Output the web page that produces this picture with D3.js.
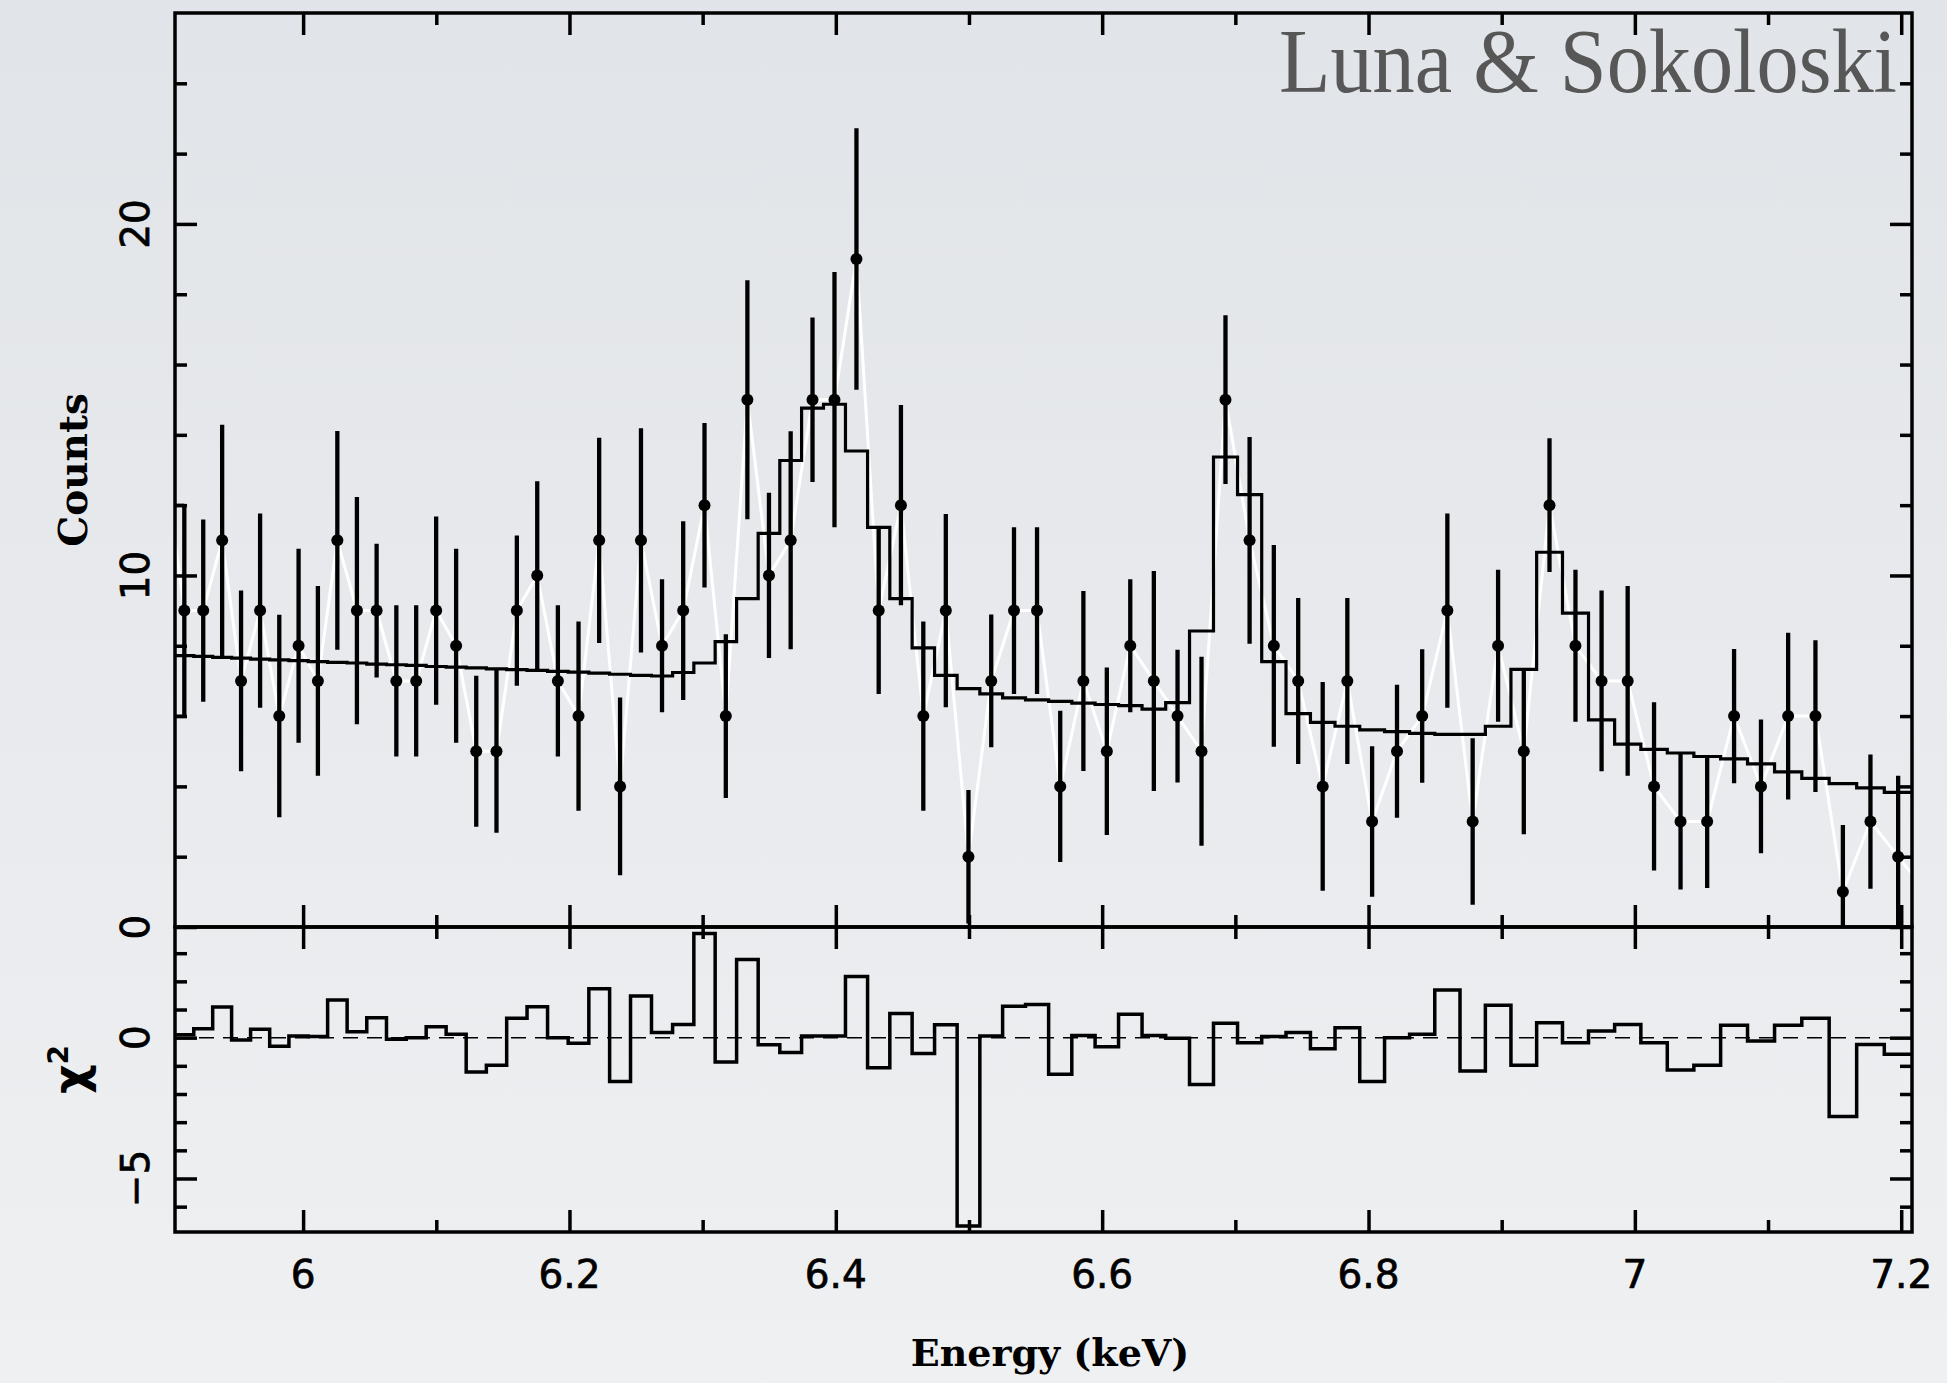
<!DOCTYPE html>
<html>
<head>
<meta charset="utf-8">
<script src="https://cdn.jsdelivr.net/npm/d3@7"></script>
<style>
  body { margin: 0; padding: 0; background: #e8eaed; }
  svg { display: block; }
</style>
</head>
<body>
<div id="viz"></div>
<script>
// Spectrum data, one entry per bin (bin centres in keV)
var energies = [
  5.9108, 5.9250, 5.9392, 5.9534, 5.9677, 5.9821, 5.9966, 6.0111, 6.0257, 6.0404,
  6.0552, 6.0700, 6.0849, 6.0999, 6.1149, 6.1300, 6.1452, 6.1605, 6.1758, 6.1913,
  6.2068, 6.2223, 6.2380, 6.2537, 6.2695, 6.2854, 6.3014, 6.3174, 6.3336, 6.3498,
  6.3661, 6.3825, 6.3990, 6.4155, 6.4322, 6.4489, 6.4657, 6.4826, 6.4996, 6.5167,
  6.5338, 6.5511, 6.5685, 6.5859, 6.6035, 6.6211, 6.6388, 6.6566, 6.6746, 6.6926,
  6.7107, 6.7289, 6.7472, 6.7656, 6.7841, 6.8027, 6.8214, 6.8403, 6.8592, 6.8782,
  6.8973, 6.9166, 6.9359, 6.9554, 6.9750, 6.9946, 7.0144, 7.0343, 7.0543, 7.0745,
  7.0947, 7.1151, 7.1356, 7.1562, 7.1769, 7.1977
];
var counts = [
  9, 9, 11, 7, 9, 6, 8, 7, 11, 9,
  9, 7, 7, 9, 8, 5, 5, 9, 10, 7,
  6, 11, 4, 11, 8, 9, 12, 6, 15, 10,
  11, 15, 15, 19, 9, 12, 6, 9, 2, 7,
  9, 9, 4, 7, 5, 8, 7, 6, 5, 15,
  11, 8, 7, 4, 7, 3, 5, 6, 9, 3,
  8, 5, 12, 8, 7, 7, 4, 3, 3, 6,
  4, 6, 6, 1, 3, 2
];
var countErrors = [
  3.00, 2.59, 3.29, 2.57, 2.76, 2.88, 2.76, 2.70, 3.11, 3.23,
  1.90, 2.15, 2.15, 2.68, 2.76, 2.15, 2.32, 2.14, 2.68, 2.15,
  2.69, 2.92, 2.53, 3.19, 1.89, 2.54, 2.34, 2.33, 3.40, 2.35,
  3.10, 2.34, 3.63, 3.72, 2.37, 2.85, 2.69, 2.75, 1.90, 1.89,
  2.37, 2.37, 2.15, 2.56, 2.38, 1.89, 3.13, 1.89, 2.69, 2.40,
  2.94, 2.87, 2.36, 2.97, 2.36, 2.14, 1.89, 1.90, 2.76, 2.37,
  2.16, 2.36, 1.90, 2.16, 2.57, 2.70, 2.39, 1.93, 1.89, 1.91,
  1.90, 2.37, 2.16, 1.90, 1.91, 2.30
];
var modelCounts = [
  7.72, 7.70, 7.67, 7.65, 7.62, 7.60, 7.58, 7.55, 7.53, 7.51,
  7.48, 7.46, 7.44, 7.41, 7.39, 7.37, 7.34, 7.32, 7.30, 7.27,
  7.25, 7.22, 7.19, 7.16, 7.14, 7.24, 7.51, 8.12, 9.34, 11.20,
  13.27, 14.76, 14.87, 13.54, 11.37, 9.34, 7.94, 7.16, 6.78, 6.63,
  6.52, 6.46, 6.42, 6.37, 6.33, 6.30, 6.20, 6.38, 8.42, 13.37,
  12.30, 7.55, 6.07, 5.82, 5.71, 5.61, 5.56, 5.51, 5.48, 5.48,
  5.71, 7.33, 10.66, 8.93, 5.89, 5.20, 5.05, 4.95, 4.85, 4.78,
  4.64, 4.41, 4.23, 4.08, 3.96, 3.83
];
var residuals = [
  0.10, 0.32, 1.09, -0.08, 0.30, -0.30, 0.06, 0.04, 1.34, 0.21,
  0.71, -0.06, 0.00, 0.39, 0.12, -1.22, -0.98, 0.69, 1.10, 0.00,
  -0.20, 1.74, -1.56, 1.48, 0.18, 0.47, 3.70, -0.86, 2.78, -0.25,
  -0.53, 0.06, 0.06, 2.17, -1.07, 0.86, -0.56, 0.46, -6.69, 0.06,
  1.12, 1.18, -1.30, 0.08, -0.32, 0.83, 0.08, -0.02, -1.66, 0.51,
  -0.18, 0.04, 0.18, -0.39, 0.35, -1.56, 0.00, 0.12, 1.69, -1.18,
  1.15, -0.98, 0.53, -0.18, 0.24, 0.47, -0.18, -1.15, -0.98, 0.44,
  -0.12, 0.44, 0.69, -2.80, -0.24, -0.59
];
// neighbouring bins just outside the plotted range (only the white line reaches them)
var outsideEnergies = [5.8968, 7.2186];
var outsideCounts = [13, 1];

// Ticks and labels
var xMajorTicks = [6, 6.2, 6.4, 6.6, 6.8, 7, 7.2];
var xTickLabels = ['6', '6.2', '6.4', '6.6', '6.8', '7', '7.2'];
var xMinorTicks = [6.1, 6.3, 6.5, 6.7, 6.9, 7.1];
var countMajorTicks = [0, 10, 20];
var countTickLabels = ['0', '10', '20'];
var countMinorTicks = [2, 4, 6, 8, 12, 14, 16, 18, 22, 24];
var residMajorTicks = [0, -5];
var residTickLabels = ['0', '\u22125'];
var residMinorTicks = [3, 2, 1, -1, -2, -3, -4, -6];

/*
 * Layout
 */
var width = 1947, height = 1383;
var left = 175, right = 1912;
var topY = 13, midY = 927, bottomY = 1232;
var majorLen = 22, minorLen = 12;
var axisWidth = 3.5;

var x = d3.scaleLinear().domain([5.9038, 7.2081]).range([left, right]);
var yCounts = d3.scaleLinear().domain([0, 26]).range([midY, topY]);
var yResid = d3.scaleLinear().domain([-6.9, 3.93]).range([bottomY, midY]);

var svg = d3.select('#viz').append('svg')
  .attr('width', width)
  .attr('height', height);

var defs = svg.append('defs');

// soft grey background
var grad = defs.append('linearGradient')
  .attr('id', 'bg')
  .attr('x1', 0).attr('y1', 0).attr('x2', 0).attr('y2', 1);
grad.append('stop').attr('offset', '0%').attr('stop-color', '#e1e4e8');
grad.append('stop').attr('offset', '100%').attr('stop-color', '#eff0f2');
svg.append('rect')
  .attr('width', width).attr('height', height)
  .attr('fill', 'url(#bg)');

defs.append('clipPath').attr('id', 'clipTop')
  .append('rect')
  .attr('x', left).attr('y', topY)
  .attr('width', right - left).attr('height', midY - topY);
defs.append('clipPath').attr('id', 'clipBottom')
  .append('rect')
  .attr('x', left).attr('y', midY)
  .attr('width', right - left).attr('height', bottomY - midY);

// bin edges: half way between neighbouring centres
var edges = [energies[0] - (energies[1] - energies[0]) / 2];
for (var i = 1; i < energies.length; i++) {
  edges.push((energies[i - 1] + energies[i]) / 2);
}
var n = energies.length;
edges.push(energies[n - 1] + (energies[n - 1] - energies[n - 2]) / 2);

// step path through the bins
function stepPath(values, yScale) {
  var p = d3.path();
  for (var k = 0; k < values.length; k++) {
    if (k === 0) p.moveTo(x(edges[0]), yScale(values[0]));
    else p.lineTo(x(edges[k]), yScale(values[k]));
    p.lineTo(x(edges[k + 1]), yScale(values[k]));
  }
  return p.toString();
}

/*
 * Upper panel: counts
 */
var gTop = svg.append('g').attr('clip-path', 'url(#clipTop)');

// white line joining the data points
var linePts = [[outsideEnergies[0], outsideCounts[0]]];
energies.forEach(function (e, k) { linePts.push([e, counts[k]]); });
linePts.push([outsideEnergies[1], outsideCounts[1]]);
gTop.append('path')
  .attr('d', d3.line().x(function (d) { return x(d[0]); }).y(function (d) { return yCounts(d[1]); })(linePts))
  .attr('fill', 'none')
  .attr('stroke', '#ffffff')
  .attr('stroke-width', 3);

// model histogram
gTop.append('path')
  .attr('d', stepPath(modelCounts, yCounts))
  .attr('fill', 'none')
  .attr('stroke', '#000')
  .attr('stroke-width', 3.2)
  .attr('stroke-linejoin', 'miter');

// error bars
gTop.selectAll('line.err')
  .data(energies)
  .enter().append('line')
  .attr('class', 'err')
  .attr('x1', function (d) { return x(d); })
  .attr('x2', function (d) { return x(d); })
  .attr('y1', function (d, k) { return yCounts(counts[k] + countErrors[k]); })
  .attr('y2', function (d, k) { return yCounts(counts[k] - countErrors[k]); })
  .attr('stroke', '#000')
  .attr('stroke-width', 4.3);

// the first bar has its ends carried to the frame
[1, -1].forEach(function (s) {
  gTop.append('line')
    .attr('x1', x.range()[0]).attr('x2', x(energies[0]))
    .attr('y1', yCounts(counts[0] + s * countErrors[0]))
    .attr('y2', yCounts(counts[0] + s * countErrors[0]))
    .attr('stroke', '#000').attr('stroke-width', 3);
});

// data points
gTop.selectAll('circle.pt')
  .data(energies)
  .enter().append('circle')
  .attr('class', 'pt')
  .attr('cx', function (d) { return x(d); })
  .attr('cy', function (d, k) { return yCounts(counts[k]); })
  .attr('r', 6)
  .attr('fill', '#000');

/*
 * Lower panel: residuals
 */
var gBot = svg.append('g').attr('clip-path', 'url(#clipBottom)');

gBot.append('line')
  .attr('x1', left).attr('x2', right)
  .attr('y1', yResid(0)).attr('y2', yResid(0))
  .attr('stroke', '#000')
  .attr('stroke-width', 1.5)
  .attr('stroke-dasharray', '15,9');

gBot.append('path')
  .attr('d', stepPath(residuals, yResid))
  .attr('fill', 'none')
  .attr('stroke', '#000')
  .attr('stroke-width', 3.5);

/*
 * Frames and ticks (all pointing inwards)
 */
function drawTicks(axisFn, scale, values, size, tx, ty) {
  var g = svg.append('g')
    .attr('transform', 'translate(' + tx + ',' + ty + ')')
    .call(axisFn(scale).tickValues(values).tickSize(-size).tickFormat(''));
  g.select('.domain').remove();
  g.selectAll('line').attr('stroke', '#000').attr('stroke-width', axisWidth);
}

// x ticks on both panels, top and bottom
[topY, midY].forEach(function (yy) {
  drawTicks(d3.axisTop, x, xMajorTicks, majorLen, 0, yy);
  drawTicks(d3.axisTop, x, xMinorTicks, minorLen, 0, yy);
});
[midY, bottomY].forEach(function (yy) {
  drawTicks(d3.axisBottom, x, xMajorTicks, majorLen, 0, yy);
  drawTicks(d3.axisBottom, x, xMinorTicks, minorLen, 0, yy);
});

// y ticks
drawTicks(d3.axisLeft, yCounts, countMajorTicks, majorLen, left, 0);
drawTicks(d3.axisLeft, yCounts, countMinorTicks, minorLen, left, 0);
drawTicks(d3.axisRight, yCounts, countMajorTicks, majorLen, right, 0);
drawTicks(d3.axisRight, yCounts, countMinorTicks, minorLen, right, 0);
drawTicks(d3.axisLeft, yResid, residMajorTicks, majorLen, left, 0);
drawTicks(d3.axisLeft, yResid, residMinorTicks, minorLen, left, 0);
drawTicks(d3.axisRight, yResid, residMajorTicks, majorLen, right, 0);
drawTicks(d3.axisRight, yResid, residMinorTicks, minorLen, right, 0);

svg.append('rect')
  .attr('x', left).attr('y', topY)
  .attr('width', right - left).attr('height', midY - topY)
  .attr('fill', 'none').attr('stroke', '#000').attr('stroke-width', axisWidth);
svg.append('rect')
  .attr('x', left).attr('y', midY)
  .attr('width', right - left).attr('height', bottomY - midY)
  .attr('fill', 'none').attr('stroke', '#000').attr('stroke-width', axisWidth);

/*
 * Labels
 */
var tickFont = "'DejaVu Sans', sans-serif";
var titleFont = "'DejaVu Serif', serif";

svg.selectAll('text.xlab')
  .data(xMajorTicks)
  .enter().append('text')
  .attr('class', 'xlab')
  .attr('x', function (d) { return x(d); })
  .attr('y', 1288)
  .attr('text-anchor', 'middle')
  .style('font-family', tickFont)
  .style('font-size', '39px')
  .attr('fill', '#000')
  .attr('stroke', '#000')
  .attr('stroke-width', 0.7)
  .text(function (d, k) { return xTickLabels[k]; });

function rotatedLabels(values, labels, scale) {
  values.forEach(function (v, k) {
    svg.append('text')
      .attr('transform', 'translate(149,' + scale(v) + ') rotate(-90)')
      .attr('text-anchor', 'middle')
      .style('font-family', tickFont)
      .style('font-size', '39px')
      .attr('fill', '#000')
      .attr('stroke', '#000')
      .attr('stroke-width', 0.7)
      .text(labels[k]);
  });
}
rotatedLabels(countMajorTicks, countTickLabels, yCounts);
rotatedLabels(residMajorTicks, residTickLabels, yResid);

svg.append('text')
  .attr('transform', 'translate(87,' + (topY + midY) / 2 + ') rotate(-90)')
  .attr('text-anchor', 'middle')
  .style('font-family', titleFont)
  .style('font-weight', 'bold')
  .style('font-size', '39px')
  .attr('fill', '#000')
  .text('Counts');

var chi = svg.append('text')
  .attr('transform', 'translate(86,' + ((midY + bottomY) / 2 - 10) + ') rotate(-90)')
  .attr('text-anchor', 'middle')
  .style('font-family', tickFont)
  .style('font-weight', 'bold')
  .style('font-size', '46px')
  .attr('fill', '#000');
chi.append('tspan').text('\u03c7');
chi.append('tspan').attr('dy', -18).style('font-size', '28px').text('2');

svg.append('text')
  .attr('x', 1050)
  .attr('y', 1366)
  .attr('text-anchor', 'middle')
  .style('font-family', titleFont)
  .style('font-weight', 'bold')
  .style('font-size', '38px')
  .attr('fill', '#000')
  .text('Energy (keV)');

svg.append('text')
  .attr('x', 1897)
  .attr('y', 92)
  .attr('text-anchor', 'end')
  .attr('textLength', 618)
  .attr('lengthAdjust', 'spacingAndGlyphs')
  .style('font-family', "'Liberation Serif', 'Times New Roman', serif")
  .style('font-size', '90px')
  .attr('fill', '#575757')
  .text('Luna & Sokoloski');
</script>
</body>
</html>
